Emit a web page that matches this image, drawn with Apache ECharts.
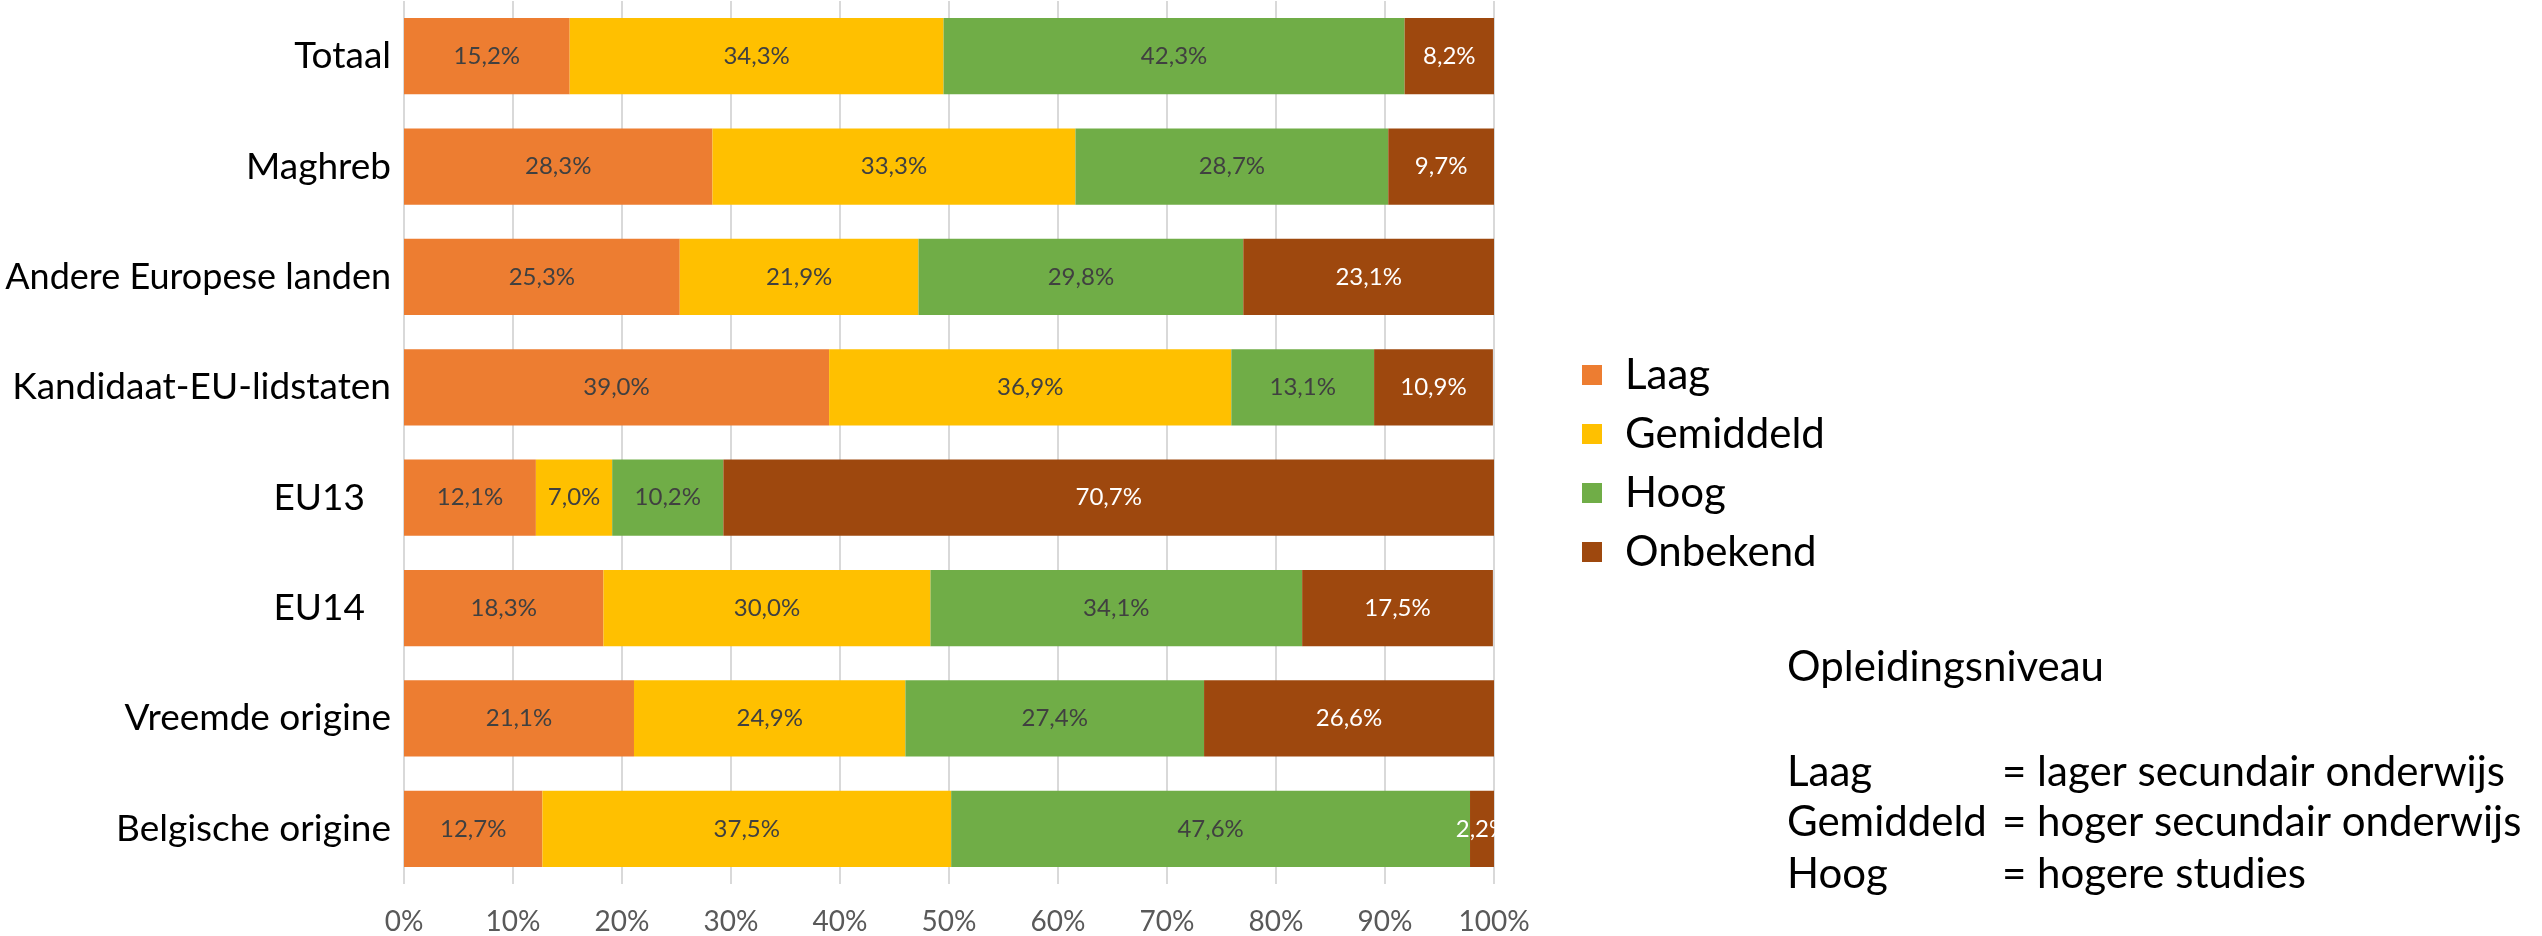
<!DOCTYPE html>
<html>
<head>
<meta charset="utf-8">
<script src="https://cdn.jsdelivr.net/npm/echarts@6/dist/echarts.min.js"></script>
<style>
html,body{margin:0;padding:0;background:#fff;}
#chart{width:2542px;height:936px;}
</style>
</head>
<body>
<div id="chart"></div>
<script>
const categories = ['Totaal','Maghreb','Andere Europese landen','Kandidaat-EU-lidstaten','EU13','EU14','Vreemde origine','Belgische origine'];
const seriesNames = ['Laag','Gemiddeld','Hoog','Onbekend'];
const laag      = [15.2, 28.3, 25.3, 39.0, 12.1, 18.3, 21.1, 12.7];
const gemiddeld = [34.3, 33.3, 21.9, 36.9,  7.0, 30.0, 24.9, 37.5];
const hoog      = [42.3, 28.7, 29.8, 13.1, 10.2, 34.1, 27.4, 47.6];
const onbekend  = [ 8.2,  9.7, 23.1, 10.9, 70.7, 17.5, 26.6,  2.2];
const xTicks = [0,10,20,30,40,50,60,70,80,90,100];
const noteTitle = 'Opleidingsniveau';
const noteTerms = ['Laag','Gemiddeld','Hoog'];
const noteDefs = ['= lager secundair onderwijs','= hoger secundair onderwijs','= hogere studies'];

const colors = ['#ED7D31','#FFC000','#70AD47','#9E480E'];
const labelColors = ['#404040','#404040','#404040','#FFFFFF'];
const values = [laag, gemiddeld, hoog, onbekend];
const FONT = 'Lato';
const paddedLabels = ['EU13','EU14'];
const longLabels = ['Andere Europese landen'];

const chart = echarts.init(document.getElementById('chart'), null, {renderer:'canvas'});

const series = seriesNames.map((name, i) => ({
  name: name,
  type: 'bar',
  stack: 'total',
  barCategoryGap: '31%',
  data: values[i],
  itemStyle: {color: colors[i]},
  label: {
    show: true,
    position: 'inside',
    color: labelColors[i],
    fontFamily: FONT,
    fontSize: 24,
    formatter: p => p.value.toFixed(1).replace('.', ',') + '%'
  },
  emphasis: {disabled: true}
}));

const graphics = [];
const noteFont = '42px Lato';
graphics.push({type:'text', left:1787, top:646, style:{text:noteTitle, font:noteFont, fill:'#000'}});
const rowTops = [751, 801, 853];
noteTerms.forEach((t, i) => {
  graphics.push({type:'text', left:1787, top:rowTops[i], style:{text:t, font:noteFont, fill:'#000'}});
  graphics.push({type:'text', left:2002, top:rowTops[i], style:{text:noteDefs[i], font:noteFont, fill:'#000'}});
});

chart.setOption({
  animation: false,
  backgroundColor: '#fff',
  grid: {left: 404, right: 1048, top: 1, height: 883, containLabel: false, outerBoundsMode: 'none'},
  xAxis: {
    type: 'value',
    min: 0, max: 100, interval: 10,
    axisLine: {show: false},
    axisTick: {show: false},
    splitLine: {show: true, lineStyle: {color: '#D9D9D9', width: 2}},
    axisLabel: {
      color: '#595959', fontFamily: FONT, fontSize: 28, margin: 24,
      formatter: v => xTicks.includes(v) ? v + '%' : ''
    }
  },
  yAxis: {
    type: 'category',
    data: categories,
    inverse: true,
    axisLine: {show: false},
    axisTick: {show: false},
    axisLabel: {
      color: '#000', fontFamily: FONT, fontSize: 37, margin: 13,
      formatter: v => paddedLabels.includes(v) ? '{pad|' + v + '}' : (longLabels.includes(v) ? '{long|' + v + '}' : v),
      rich: {
        pad: {color: '#000', fontFamily: FONT, fontSize: 37, padding: [0, 26, 0, 0]},
        long: {color: '#000', fontFamily: FONT, fontSize: 36}
      }
    }
  },
  legend: {
    orient: 'vertical',
    left: 1577,
    top: 349,
    itemWidth: 20,
    itemHeight: 20,
    itemGap: 17,
    icon: 'rect',
    data: seriesNames,
    textStyle: {color: '#000', fontFamily: FONT, fontSize: 42, lineHeight: 42, padding: [0,0,0,18]}
  },
  graphic: graphics,
  series: series
});
</script>
</body>
</html>
